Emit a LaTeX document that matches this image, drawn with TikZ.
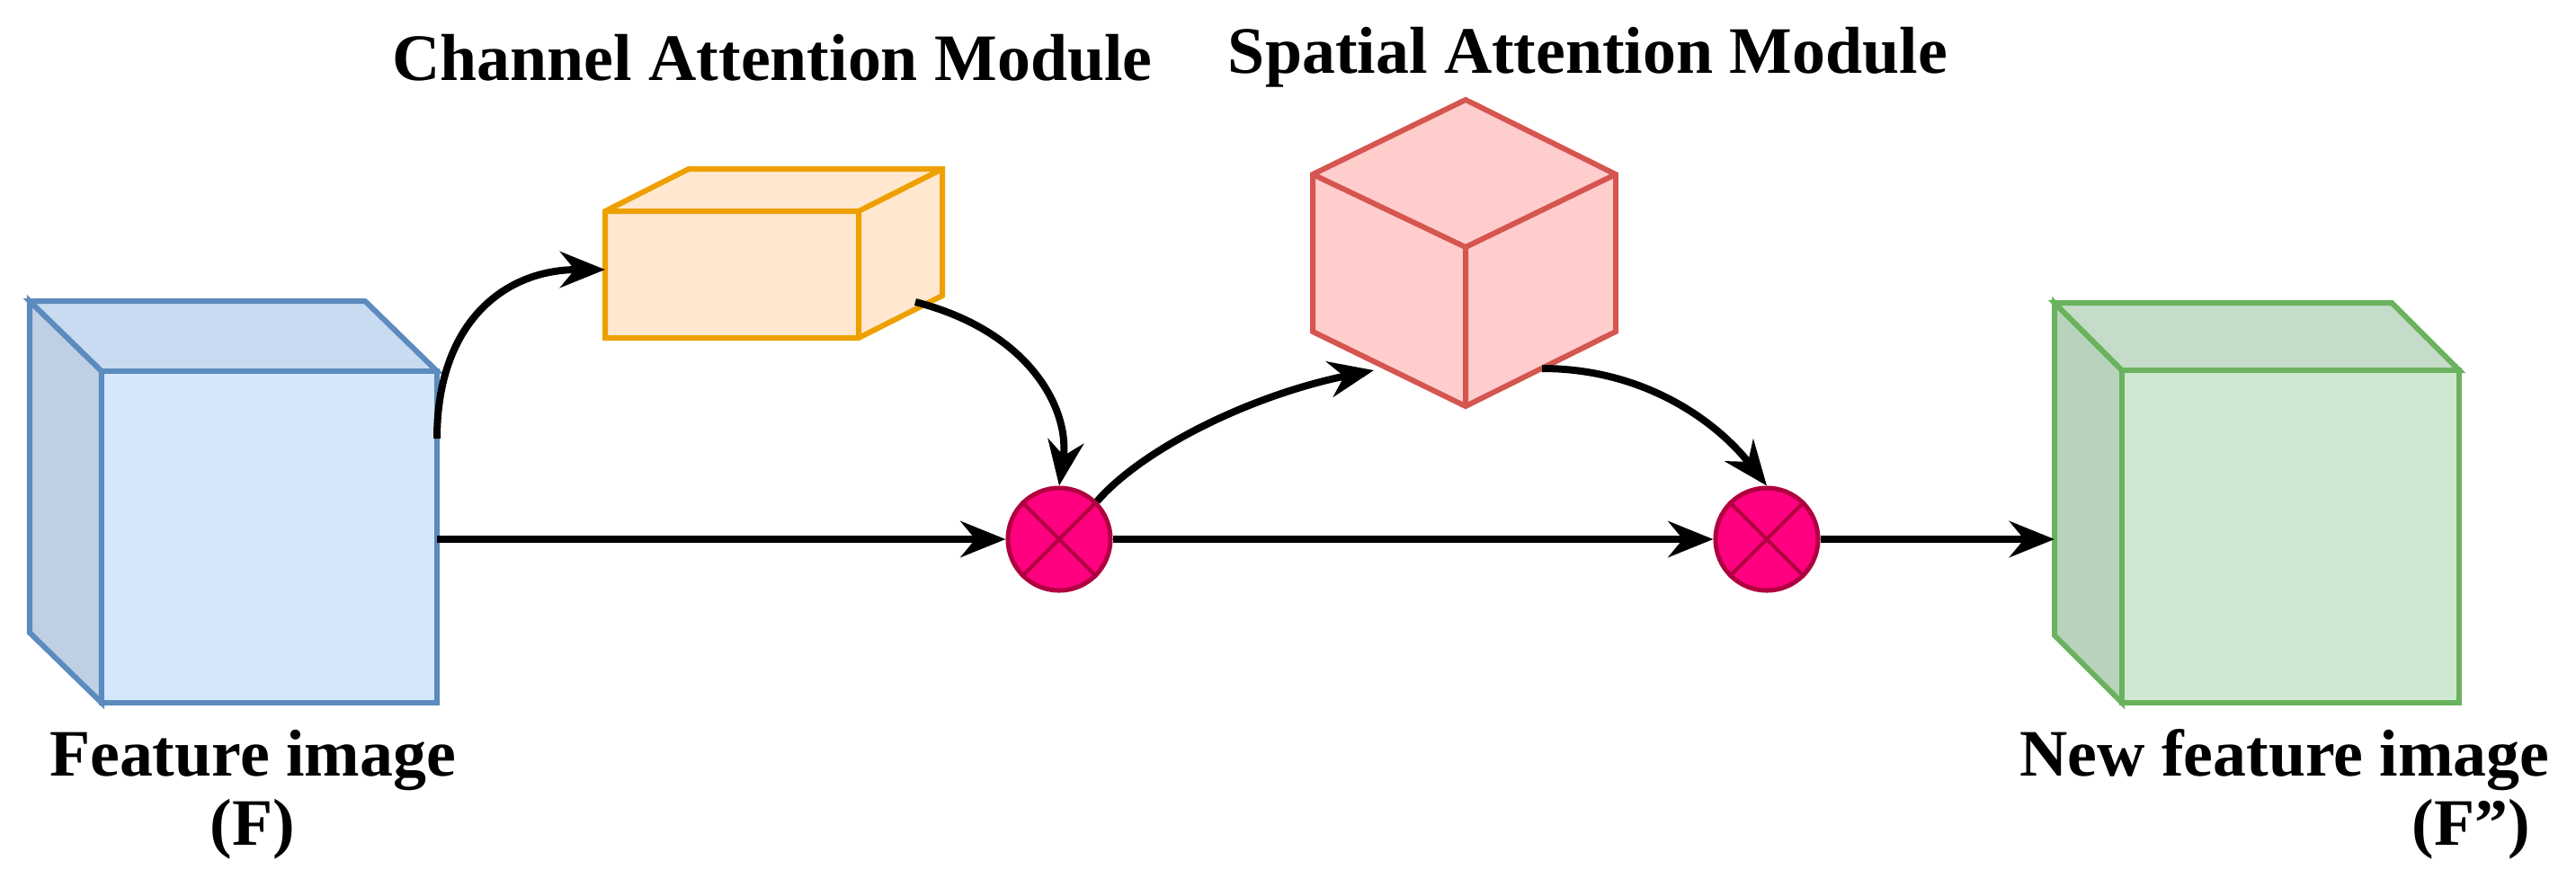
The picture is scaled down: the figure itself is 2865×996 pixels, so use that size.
\documentclass[tikz,border=0pt]{standalone}
\usepackage{fontspec}
\setmainfont{Liberation Serif}
\usetikzlibrary{arrows.meta}
\definecolor{bfill}{HTML}{D4E7FB}\definecolor{bside}{HTML}{C0D0E4}\definecolor{btop}{HTML}{C9DBF0}\definecolor{bline}{HTML}{5B8BBF}
\definecolor{ofill}{HTML}{FFE8CF}\definecolor{oline}{HTML}{EDA000}
\definecolor{rfill}{HTML}{FFCDCC}\definecolor{rline}{HTML}{D55550}
\definecolor{gfill}{HTML}{CEE8D2}\definecolor{gside}{HTML}{B8D2BC}\definecolor{gtop}{HTML}{C4DCC8}\definecolor{gline}{HTML}{6AB25E}
\definecolor{cfill}{HTML}{FF0080}\definecolor{cline}{HTML}{B0003F}
\begin{document}
\begin{tikzpicture}[x=0.01cm,y=-0.01cm,
  conn/.style={line width=0.08cm,-{Stealth[length=0.5cm,width=0.4cm]}},
  mul/.style={circle,draw=cline,fill=cfill,line width=0.05cm,minimum size=1.14cm,inner sep=0pt},
  lab/.style={font=\bfseries\fontsize{21}{24}\selectfont,inner sep=0pt},
  edge/.style={line width=0.06cm,line join=miter}]
\useasboundingbox (0,0) rectangle (2865,996);
% blue cube
\begin{scope}[edge,draw=bline]
\filldraw[fill=bside] (33,335) -- (113,413) -- (113,782) -- (33,704) -- cycle;
\filldraw[fill=btop] (33,335) -- (406,335) -- (486,413) -- (113,413) -- cycle;
\filldraw[fill=bfill] (113,413) rectangle (486,782);
\end{scope}
% orange box
\begin{scope}[edge,draw=oline]
\filldraw[fill=ofill] (673,235) -- (766,188) -- (1048,188) -- (1048,329) -- (955,376) -- (673,376) -- cycle;
\draw (673,235) -- (955,235) -- (1048,188) (955,235) -- (955,376);
\end{scope}
% red cube
\begin{scope}[edge,draw=rline]
\filldraw[fill=rfill] (1630,111) -- (1797,194) -- (1797,369) -- (1630,452) -- (1460,369) -- (1460,194) -- cycle;
\draw (1460,194) -- (1630,275) -- (1797,194) (1630,275) -- (1630,452);
\end{scope}
% green cube
\begin{scope}[edge,draw=gline]
\filldraw[fill=gside] (2285,337) -- (2360,412) -- (2360,782) -- (2285,707) -- cycle;
\filldraw[fill=gtop] (2285,337) -- (2660,337) -- (2735,412) -- (2360,412) -- cycle;
\filldraw[fill=gfill] (2360,412) rectangle (2735,782);
\end{scope}
% anchors
\coordinate (bmid) at (486,600);
\coordinate (btopout) at (486,488);
\coordinate (oin) at (673,300);
\coordinate (oout) at (1018,336);
\coordinate (rin) at (1528,412);
\coordinate (rout) at (1715,410);
\coordinate (gin) at (2285,600);
\node[mul] (c1) at (1178,600) {};
\node[mul] (c2) at (1965,600) {};
\foreach \n in {c1,c2}{\draw[cline,line width=0.04cm] (\n.45) -- (\n.225) (\n.135) -- (\n.315);}
% connectors
\draw[conn] (btopout) .. controls (486,360) and (560,300) .. (oin);
\draw[conn] (oout) .. controls (1150,370) and (1190,460) .. (c1.north);
\draw[conn] (bmid) -- (c1.west);
\draw[conn] (c1.45) .. controls (1270,500) and (1390,440) .. (rin);
\draw[conn] (rout) .. controls (1830,410) and (1910,470) .. (c2.north);
\draw[conn] (c1.east) -- (c2.west);
\draw[conn] (c2.east) -- (gin);
% labels
\node[lab] (t1) at (859,64) {Channel Attention Module};
\node[lab] (t2) at (1766,64) {Spatial Attention Module};
\node[lab] (f1) at (281,846) {Feature image};
\node[lab] (f2) at (281,923) {(F)};
\node[lab] (n1) at (2541,846) {New feature image};
\node[lab] (n2) at (2748,923) {(F\symbol{34})};
\end{tikzpicture}
\end{document}
